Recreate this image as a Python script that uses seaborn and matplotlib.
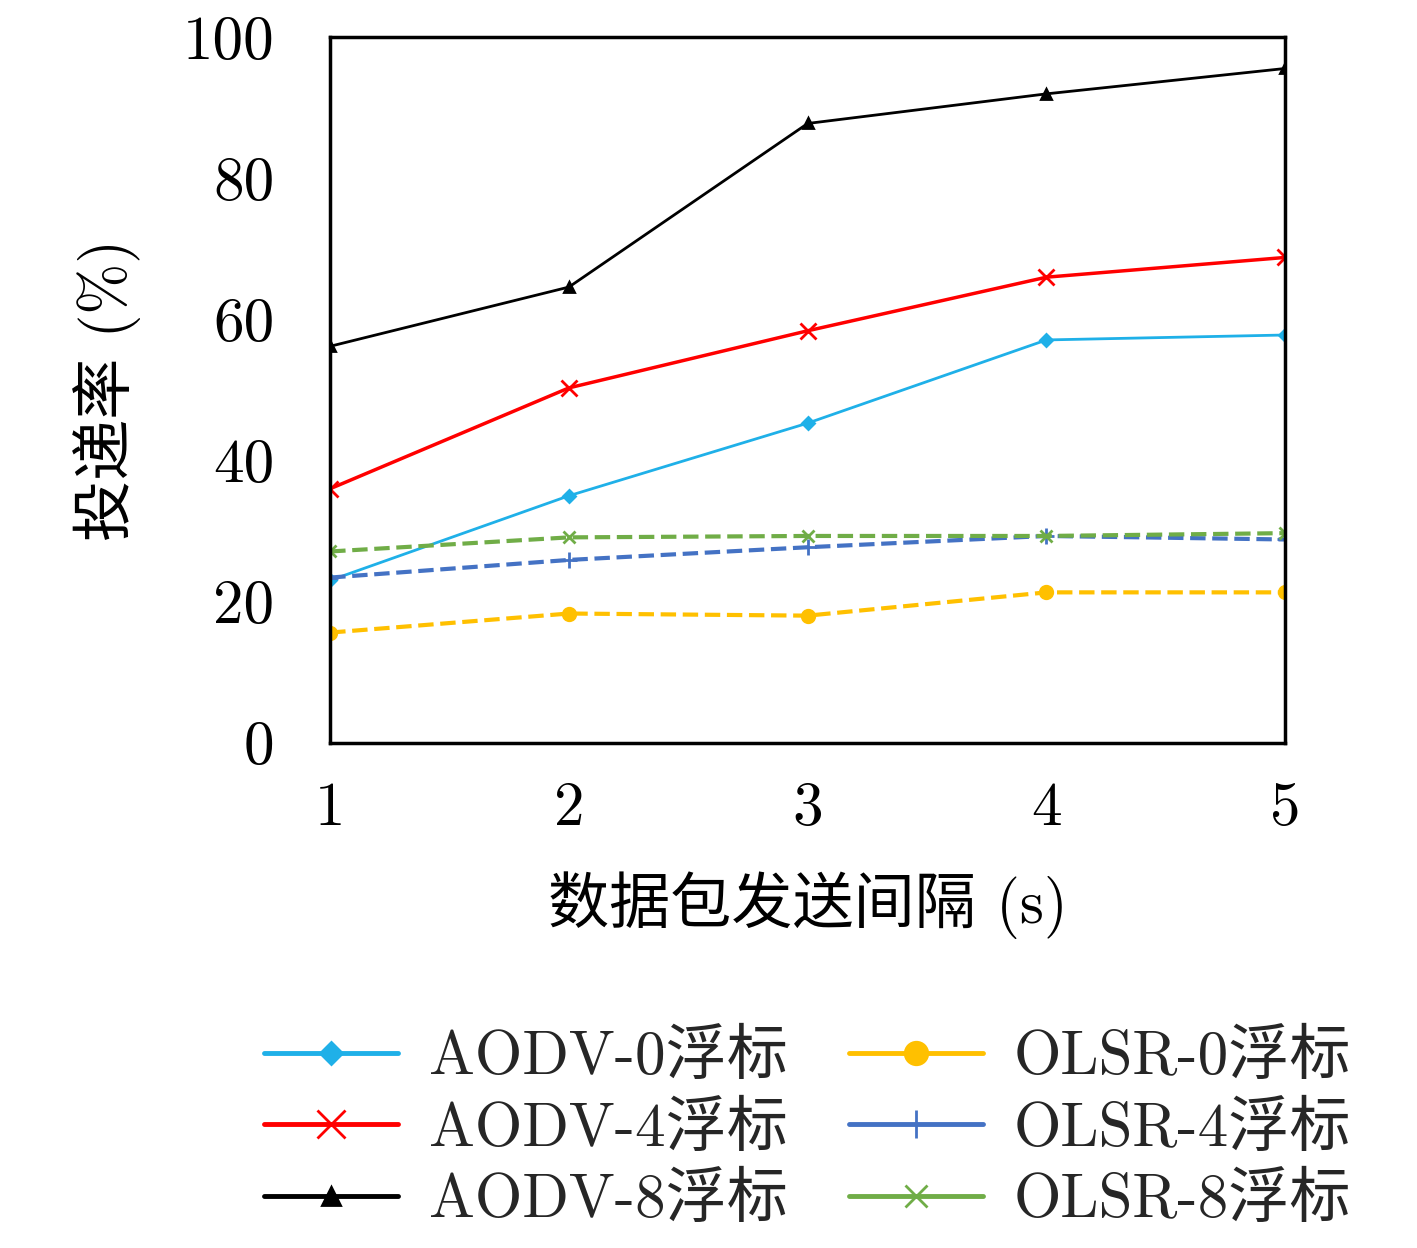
import matplotlib
matplotlib.use("Agg")
import matplotlib.pyplot as plt
import seaborn as sns
import pandas as pd

intervals = [1, 2, 3, 4, 5]
aodv_0 = [23.0, 35.0, 45.3, 57.1, 57.8]
aodv_4 = [36.0, 50.3, 58.4, 66.0, 68.8]
aodv_8 = [56.2, 64.6, 87.8, 92.0, 95.6]
olsr_0 = [15.6, 18.3, 18.0, 21.3, 21.3]
olsr_4 = [23.4, 25.9, 27.7, 29.3, 28.8]
olsr_8 = [27.1, 29.1, 29.3, 29.3, 29.7]

series = [
    ("AODV-0浮标", aodv_0, "#1fb0e8", "D", "-", 2.0, 6),
    ("AODV-4浮标", aodv_4, "#ff0000", "x", "-", 2.5, 11),
    ("AODV-8浮标", aodv_8, "#000000", "^", "-", 2.0, 7),
    ("OLSR-0浮标", olsr_0, "#ffc000", "o", "--", 3.0, 9),
    ("OLSR-4浮标", olsr_4, "#4472c4", "+", "--", 3.0, 11),
    ("OLSR-8浮标", olsr_8, "#70ad47", "x", "--", 3.0, 9),
]

sns.set_style("ticks")
plt.rcParams["font.family"] = ["cmr10", "Noto Sans CJK SC"]
plt.rcParams["axes.unicode_minus"] = False
plt.rcParams["axes.edgecolor"] = "black"

fig = plt.figure(figsize=(14.17, 12.48), dpi=100)
ax = fig.add_axes([0.233, 0.405, 0.674, 0.565])

for name, vals, color, marker, ls, lw, ms in series:
    df = pd.DataFrame({"x": intervals, "y": vals})
    sns.lineplot(data=df, x="x", y="y", ax=ax, color=color, marker=marker,
                 linestyle=ls, linewidth=lw, markersize=ms, markeredgewidth=2,
                 markeredgecolor=color, label=name)

ax.set_xlim(1, 5)
ax.set_ylim(0, 100)
ax.set_xticks(intervals)
ax.set_yticks(range(0, 101, 20))
ax.tick_params(labelsize=44, length=0, colors="black")
ax.tick_params(axis="x", pad=28)
ax.tick_params(axis="y", pad=40)
for s in ax.spines.values():
    s.set_linewidth(2.5)
ax.set_xlabel("数据包发送间隔 (s)", fontsize=44, labelpad=25, color="black")
ax.set_ylabel("投递率 (%)", fontsize=44, labelpad=30, color="black")

handles, labels = ax.get_legend_handles_labels()
leg = ax.legend(handles, labels, ncol=2, loc="upper center",
                bbox_to_anchor=(0.5, -0.33), frameon=False, fontsize=44,
                handlelength=2.2, columnspacing=1.0, labelspacing=0.25,
                handletextpad=0.5, markerscale=1.8)
for line in leg.get_lines():
    line.set_linewidth(3.5)
    line.set_linestyle("-")

fig.savefig("out.png", dpi=100)
